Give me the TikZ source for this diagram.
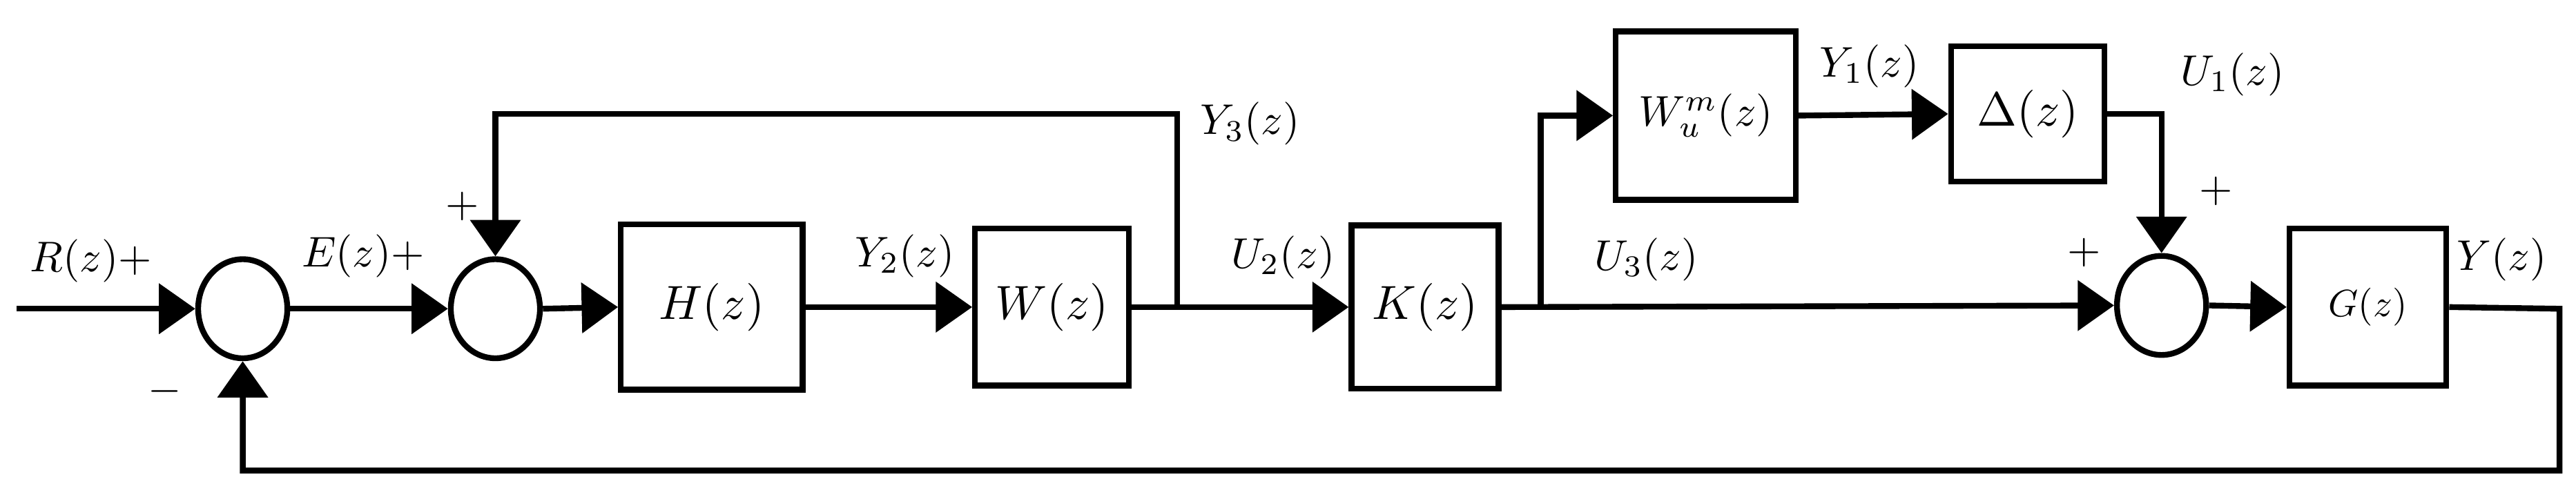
\documentclass[tikz,border=0pt]{standalone}
\usetikzlibrary{shapes.geometric,arrows.meta}
\newcommand{\bigt}[2]{\scalebox{#1}{#2}}
\begin{document}
\begin{tikzpicture}[x=1pt,y=-1pt,line width=3.5pt,
  blk/.style={draw,rectangle,inner sep=0pt},
  sum/.style={draw,ellipse,minimum width=54pt,minimum height=60pt,inner sep=0pt},
  lbl/.style={inner sep=0pt},
  arr/.style={-{Triangle[length=22pt,width=30pt]}}]
\useasboundingbox (0,0) rectangle (1560,301);
\node[sum] (s1) at (147,187) {};
\node[sum] (s2) at (300,187) {};
\node[sum] (s3) at (1309,185) {};
\node[blk,minimum width=110pt,minimum height=100pt] (H) at (431,186) {\bigt{2.9}{$H(z)$}};
\node[blk,minimum width=93pt,minimum height=95pt] (W) at (637,186) {\bigt{2.9}{$W(z)$}};
\node[blk,minimum width=89pt,minimum height=99pt] (K) at (863,186) {\bigt{2.9}{$K(z)$}};
\node[blk,minimum width=109pt,minimum height=102pt] (Wu) at (1033,70) {\bigt{2.6}{$W_u^m(z)$}};
\node[blk,minimum width=93pt,minimum height=82pt] (D) at (1228,69) {\bigt{2.9}{$\Delta(z)$}};
\node[blk,minimum width=95pt,minimum height=95pt] (G) at (1434,186) {\bigt{2.3}{$G(z)$}};
\coordinate (in) at (10,187);
\coordinate (b3) at (713,187);
\coordinate (t3a) at (713,69);
\coordinate (t3b) at (300,69);
\coordinate (bk) at (933,187);
\coordinate (tk) at (933,70);
\coordinate (dc) at (1309,69);
\coordinate (yo) at (1550,187);
\coordinate (yb) at (1550,285);
\coordinate (fb) at (147,285);
\draw[arr] (in) -- (s1.west);
\draw[arr] (s1.east) -- (s2.west);
\draw[arr] (s2.east) -- (H.west);
\draw[arr] (H.east) -- (W.west);
\draw[arr] (W.east) -- (K.west);
\draw[arr] (b3) -- (t3a) -- (t3b) -- (s2.north);
\draw[arr] (K.east) -- (s3.west);
\draw[arr] (bk) -- (tk) -- (Wu.west);
\draw[arr] (Wu.east) -- (D.west);
\draw[arr] (D.east) -- (dc) -- (s3.north);
\draw[arr] (s3.east) -- (G.west);
\draw[arr] (G.east) -- (yo) -- (yb) -- (fb) -- (s1.south);
\node[lbl] (lr) at (55,158) {\bigt{2.6}{$R(z)+$}};
\node[lbl] (lm) at (100,237) {\bigt{2.6}{$-$}};
\node[lbl] (le) at (220,155) {\bigt{2.6}{$E(z)+$}};
\node[lbl] (lp2) at (280,125) {\bigt{2.6}{$+$}};
\node[lbl] (ly2) at (548,155) {\bigt{2.6}{$Y_2(z)$}};
\node[lbl] (ly3) at (757,75) {\bigt{2.6}{$Y_3(z)$}};
\node[lbl] (lu2) at (777,156) {\bigt{2.6}{$U_2(z)$}};
\node[lbl] (lu3) at (997,157) {\bigt{2.6}{$U_3(z)$}};
\node[lbl] (ly1) at (1132,40) {\bigt{2.6}{$Y_1(z)$}};
\node[lbl] (lu1) at (1352,45) {\bigt{2.6}{$U_1(z)$}};
\node[lbl] (lp3) at (1342,116) {\bigt{2.6}{$+$}};
\node[lbl] (lp4) at (1262,153) {\bigt{2.6}{$+$}};
\node[lbl] (ly) at (1515,157) {\bigt{2.6}{$Y(z)$}};
\end{tikzpicture}
\end{document}
